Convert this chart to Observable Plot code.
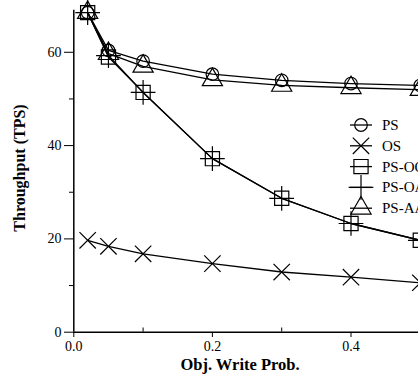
<!DOCTYPE html>
<html><head><meta charset="utf-8">
<script src="https://cdn.jsdelivr.net/npm/d3@7"></script>
<script src="https://cdn.jsdelivr.net/npm/@observablehq/plot@0.6"></script>
<style>
body{margin:0;background:#fff;}
#chart{position:relative;width:418px;height:383px;overflow:hidden;}
svg text{font-family:"Liberation Serif","Times New Roman",serif !important;}
</style></head><body><div id="chart"></div>
<script>
const xs = [0.02, 0.05, 0.1, 0.2, 0.3, 0.4, 0.5];
const ps = [68.5, 60.4, 58.1, 55.3, 54.0, 53.3, 52.9];
const os = [19.7, 18.4, 16.8, 14.7, 12.9, 11.8, 10.6];
const psOO = [68.5, 59.0, 51.4, 37.2, 28.7, 23.3, 19.7];
const psOA = [68.5, 59.3, 51.4, 37.2, 28.7, 23.3, 19.7];
const psAA = [68.5, 59.7, 57.0, 54.1, 52.9, 52.4, 52.0];
const seriesNames = ["PS", "OS", "PS-OO", "PS-OA", "PS-AA"];
const seriesVals = [ps, os, psOO, psOA, psAA];
const symbols = ["circle", "times", "square", "plus", "triangle"];
const radii = [6.3, 7.5, 8, 8, 7.5];
const yTicks = [0, 20, 40, 60];
const yMinor = [10, 30, 50];
const xTicks = [0, 0.2, 0.4];
const xTickLabels = ["0.0", "0.2", "0.4"];
const xMinor = [0.1, 0.3];

const rows = [];
seriesNames.forEach((s, i) => xs.forEach((x, j) => rows.push({series: s, x, y: seriesVals[i][j], k: i})));

const marks = [
  Plot.ruleX([0], {y1: 0, y2: 69, stroke: "black", strokeWidth: 1.5}),
  Plot.ruleY([0], {stroke: "black", strokeWidth: 1.5}),
  Plot.axisY({ticks: yTicks, tickSize: 9, tickPadding: 3, fontSize: 14, label: null, tickFormat: d => d}),
  Plot.axisY({ticks: yMinor, tickSize: 4, tickFormat: () => "", label: null}),
  Plot.axisX({ticks: xTicks, tickSize: 5, tickPadding: 4, fontSize: 14, label: null, tickFormat: (d, i) => xTickLabels[xTicks.indexOf(d)]}),
  Plot.ruleX(xMinor, {y1: 0, y2: 0.9, stroke: "black"}),
];
seriesNames.forEach((s, i) => {
  const d = rows.filter(r => r.k === i);
  marks.push(Plot.line(d, {x: "x", y: "y", stroke: "black", strokeWidth: 1.3}));
  marks.push(Plot.dot(d, {x: "x", y: "y", symbol: () => symbols[i], r: radii[i], stroke: "black", strokeWidth: 1.2, fill: "none"}));
});

const chart = Plot.plot({
  width: 418, height: 383,
  marginLeft: 73, marginRight: 0, marginTop: 10, marginBottom: 51,
  x: {domain: [0, 0.5], range: [73.3, 419.8], axis: null},
  y: {domain: [0, 69], range: [331.7, 9.8], axis: null},
  style: {color: "black", background: "white"},
  marks
});
document.getElementById("chart").appendChild(chart);

const svg = d3.select(chart);
// axis titles
svg.append("text").attr("transform", "translate(25,168) rotate(-90)").attr("text-anchor", "middle")
  .attr("font-size", 16).attr("font-weight", "bold").text("Throughput (TPS)");
svg.append("text").attr("x", 240).attr("y", 370).attr("text-anchor", "middle")
  .attr("font-size", 16.5).attr("font-weight", "bold").text("Obj. Write Prob.");

// legend
const symMap = {circle: d3.symbolCircle, times: d3.symbolTimes, square: d3.symbolSquare, plus: d3.symbolPlus, triangle: d3.symbolTriangle};
const lg = svg.append("g").attr("transform", "translate(350,125)");
seriesNames.forEach((s, i) => {
  const g = lg.append("g").attr("transform", `translate(0,${i * 20.8})`);
  g.append("line").attr("x1", 0).attr("x2", 22).attr("stroke", "black").attr("stroke-width", 1.3);
  g.append("path").attr("transform", "translate(11,0)")
    .attr("d", d3.symbol(symMap[symbols[i]], Math.PI * radii[i] * radii[i])())
    .attr("fill", "none").attr("stroke", "black").attr("stroke-width", 1.2);
  g.append("text").attr("x", 32).attr("y", 5).attr("text-anchor", "start").attr("font-size", 15).text(s);
});
</script></body></html>
